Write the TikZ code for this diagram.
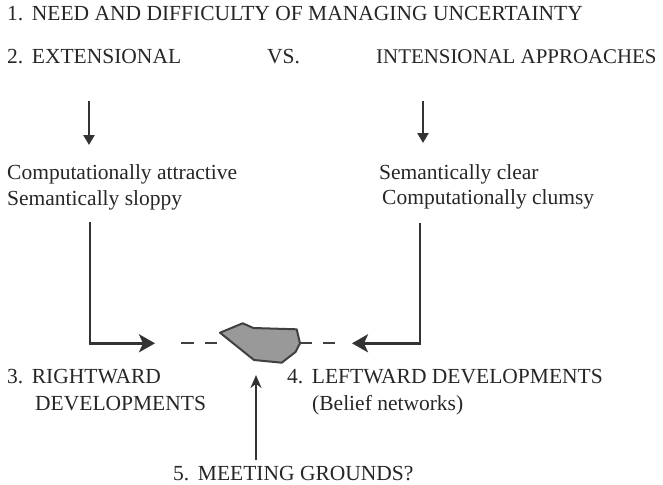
\documentclass[tikz,border=0pt]{standalone}
\usepackage{fontspec}
\setmainfont{Liberation Serif}
\usetikzlibrary{arrows.meta}

\tikzset{
  txt/.style={anchor=base west,inner sep=0pt,text=black!85},
  shortarr/.style={draw=black!80,line width=2.6pt,-{Triangle[length=10pt,width=11pt]}},
  bentarr/.style={draw=black!80,line width=2.6pt,-{Stealth[length=16pt,width=18pt,inset=4pt]}},
  dashline/.style={draw=black!75,line width=2.2pt,dash pattern=on 13pt off 11pt},
  blob/.style={draw=black!75,line width=2pt,fill=black!40,line join=round}
}
\newcommand{\nsp}{\hspace{0.4em}}

\begin{document}
\begin{tikzpicture}[x=1pt,y=-1pt,font=\fontsize{21.5}{26}\selectfont]
\useasboundingbox (0,0) rectangle (663,484);
\node[txt] (need) at (7,20.7) {1.\nsp NEED AND DIFFICULTY OF MANAGING UNCERTAINTY};
\node[txt] (ext) at (7,63.3) {2.\nsp EXTENSIONAL};
\node[txt] (vs) at (267,63.3) {VS.};
\node[txt,font=\fontsize{20.9}{26}\selectfont] (int) at (376,63.3) {INTENSIONAL APPROACHES};
\node[txt] (attr) at (7,179) {Computationally attractive};
\node[txt] (sloppy) at (7,205) {Semantically sloppy};
\node[txt] (clear) at (379,179) {Semantically clear};
\node[txt] (clumsy) at (382,204) {Computationally clumsy};
\node[txt] (rwd) at (7,383.3) {3.\nsp RIGHTWARD};
\node[txt] (rwdb) at (35,410) {DEVELOPMENTS};
\node[txt] (lwd) at (287,383.3) {4.\nsp LEFTWARD DEVELOPMENTS};
\node[txt] (lwdb) at (312,410) {(Belief networks)};
\node[txt] (meet) at (173,480) {5.\nsp MEETING GROUNDS?};
% arrow ends
\coordinate (extA) at (89,101);   \coordinate (extB) at (89,145);
\coordinate (intA) at (423,101);  \coordinate (intB) at (423,143);
\coordinate (slopA) at (90,222);  \coordinate (slopC) at (90,343.3);
\coordinate (tipR) at (155,343.3);
\coordinate (clumA) at (420,223); \coordinate (clumC) at (420,343.3);
\coordinate (tipL) at (352,343.3);
\coordinate (meetA) at (256,460); \coordinate (meetB) at (256,375);
\foreach \a/\b in {extA/extB,intA/intB}{
\draw[shortarr] (\a)--(\b);}
\draw[bentarr] (slopA)--(slopC)--(tipR);
\draw[bentarr] (clumA)--(clumC)--(tipL);
\draw[draw=black!80,line width=2.6pt,-{Stealth[length=13pt,width=11pt]}] (meetA)--(meetB);
% meeting blob
\draw[blob] (220,332.7)--(242.7,323.3)--(253.3,328)--(296.7,329.3)--(300,343.3)
  --(295.5,352)--(281.7,362.7)--(254,360)--cycle;
\coordinate (blobL) at (217,343.3); \coordinate (blobR) at (300,343.3);
\draw[dashline] (181,343.3)--(blobL);
\draw[dashline,dash pattern=on 12pt off 11pt] (blobR)--(335,343.3);
\end{tikzpicture}
\end{document}
